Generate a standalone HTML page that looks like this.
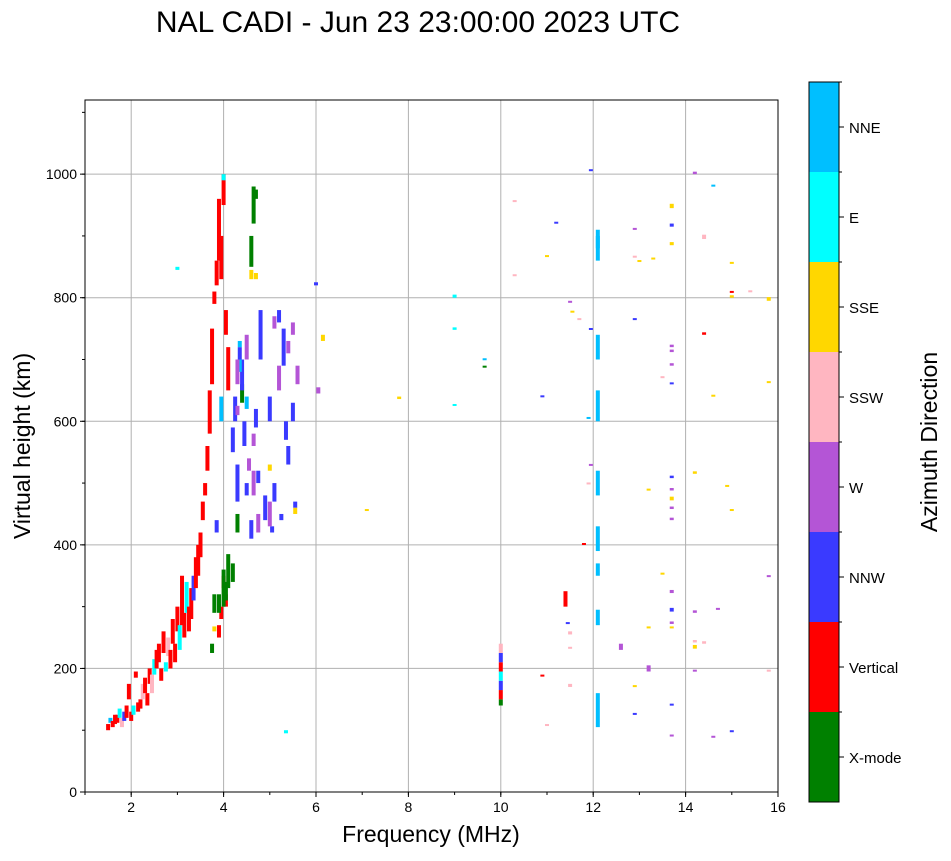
<!DOCTYPE html>
<html><head><meta charset="utf-8"><style>
body{margin:0;background:#fff;font-family:"Liberation Sans",sans-serif}
svg text{font-family:"Liberation Sans",sans-serif}
</style></head><body>
<svg id="c" width="951" height="856" xmlns="http://www.w3.org/2000/svg">
<text x="418" y="32" font-size="30" text-anchor="middle">NAL CADI - Jun 23 23:00:00 2023 UTC</text>
<g id="grid"></g><g id="marks"></g><g id="axes"></g><g id="cbar"></g>
<text x="431" y="842" font-size="23" text-anchor="middle">Frequency (MHz)</text>
<text x="0" y="0" font-size="23" text-anchor="middle" transform="translate(30,446) rotate(-90)">Virtual height (km)</text>
<text x="0" y="0" font-size="23" text-anchor="middle" transform="translate(937,442) rotate(-90)">Azimuth Direction</text>
</svg>
<script>
const categories=["X-mode","Vertical","NNW","W","SSW","SSE","E","NNE"];
const catColors=["#008000","#ff0000","#3a3aff","#b455d6","#ffb6c1","#ffd700","#00ffff","#00bfff"];
const xTicks=[0,2,4,6,8,10,12,14,16];
const yTicks=[0,200,400,600,800,1000];
// segments: frequency (MHz), low height, high height (km), category index
const freq=[1.5,1.55,1.6,1.65,1.7,1.75,1.8,1.85,1.9,1.95,2.0,2.05,2.1,2.15,2.2,2.25,2.3,2.35,2.4,2.45,2.5,2.55,2.6,2.65,2.7,2.75,2.8,2.85,2.9,2.95,3.0,3.05,3.1,3.15,3.2,3.25,3.3,3.35,3.4,3.45,3.5,3.55,3.6,3.65,3.7,3.75,3.8,3.85,3.9,3.95,4.0,4.05,4.1,3.9,3.95,4.0,4.05,3.85,3.95,
3.75,3.8,3.9,4.0,4.05,4.1,4.2,4.3,4.4,4.6,4.65,4.7,4.6,
4.2,4.25,4.3,4.35,4.4,4.45,4.5,4.6,4.7,4.8,4.9,5.0,5.1,5.2,5.3,5.35,5.4,5.5,5.55,4.35,4.5,4.75,5.05,5.25,
4.3,4.5,4.55,4.65,4.75,5.0,5.1,5.2,5.4,5.6,6.05,6.0,5.5,4.3,4.65,
4.7,5.0,5.55,6.15,7.1,7.8,3.8,
3.0,5.35,9.0,9.0,9.0,4.0,4.35,
10.0,10.0,10.0,10.0,10.0,10.0,10.0,9.65,9.65,
10.9,11.4,11.5,11.5,11.8,11.5,11.45,11.0,10.3,10.3,10.9,11.2,11.0,11.5,11.55,11.7,11.95,11.95,11.9,11.95,11.9,
12.1,12.1,12.1,12.1,12.1,12.1,12.1,12.1,12.1,
12.6,12.9,12.9,12.9,13.2,13.2,13.2,13.5,13.5,12.9,13.0,13.3,12.9,13.2,
13.7,13.7,13.7,13.7,13.7,13.7,13.7,13.7,13.7,13.7,13.7,13.7,13.7,13.7,13.7,13.7,13.7,13.7,
14.2,14.2,14.2,14.2,14.2,14.2,14.4,14.4,14.4,14.6,14.6,14.6,14.7,14.9,15.0,15.0,15.0,15.0,15.0,15.4,15.8,15.8,15.8,15.8];
const hLow=[100,112,105,110,112,120,105,115,120,150,115,125,185,130,135,150,160,140,175,160,190,200,210,180,225,195,220,200,240,210,260,230,270,250,290,260,280,310,330,350,380,440,480,520,580,660,790,820,860,830,950,740,650,250,280,330,300,420,600,
225,290,290,300,310,330,340,420,630,850,920,960,830,
550,600,470,700,650,560,480,410,590,700,440,600,470,760,690,570,530,600,460,680,620,500,420,440,
660,700,520,480,420,430,750,650,710,660,645,820,740,610,560,
830,520,450,730,455,636,260,
845,95,800,625,748,990,720,
140,150,165,180,195,210,225,688,700,
188,300,255,170,400,232,272,108,835,955,640,920,866,792,776,765,1006,748,605,528,498,
105,270,350,390,480,600,700,860,880,
230,125,170,910,195,265,488,352,670,865,858,862,765,200,
90,140,265,272,292,322,440,458,472,488,508,660,690,712,720,885,915,945,
195,232,242,290,515,1000,240,740,895,88,640,980,295,495,455,800,855,808,98,810,195,348,662,795];
const hHigh=[110,120,115,125,125,135,120,130,140,175,130,140,195,145,150,175,185,160,200,190,215,230,240,200,260,210,250,230,280,240,300,270,350,290,340,300,330,350,380,400,420,470,500,560,650,750,810,860,960,900,1000,780,720,270,300,350,320,440,640,
240,320,320,360,340,385,370,450,660,900,980,975,845,
590,640,530,720,700,600,500,440,620,780,480,640,500,780,750,600,560,630,470,700,640,520,430,450,
700,740,540,520,450,470,770,690,730,690,655,825,760,625,580,
840,530,460,740,458,640,268,
850,100,805,628,752,1000,730,
150,165,180,195,210,225,240,690,702,
190,325,260,175,403,235,275,110,838,958,642,923,869,795,779,767,1008,751,607,531,501,
160,295,370,430,520,650,740,910,900,
240,128,173,913,200,268,491,355,673,868,861,865,767,205,
93,143,268,276,298,327,444,462,478,492,512,663,694,716,724,890,920,952,
198,238,246,294,519,1004,244,744,902,91,643,983,298,497,458,804,858,811,100,812,198,351,665,801];
const cat=[1,7,1,1,1,6,4,2,1,1,1,6,1,1,1,4,1,1,1,4,6,1,1,1,1,6,4,1,1,1,1,6,1,1,6,1,1,2,1,1,1,1,1,1,1,1,1,1,1,1,1,1,1,1,1,1,1,2,7,
0,0,0,0,0,0,0,0,0,0,0,0,5,
2,2,2,2,2,2,2,2,2,2,2,2,2,2,2,2,2,2,2,7,7,2,2,2,
3,3,3,3,3,3,3,3,3,3,3,2,3,3,3,
5,5,5,5,5,5,5,
6,6,6,6,6,6,7,
0,1,2,6,1,2,4,0,7,
1,1,4,4,1,4,2,4,4,4,2,2,5,3,5,4,2,2,7,3,4,
7,7,7,7,7,7,7,7,7,
3,2,5,3,3,5,5,5,4,4,5,5,2,3,
3,2,5,3,2,3,3,3,5,3,2,2,3,3,3,5,2,5,
3,5,4,3,5,3,4,1,4,3,5,7,3,5,5,5,5,1,2,4,4,3,5,5];
const svg=document.getElementById('c');
const L=85,R=778,T=100,B=792,fMin=1,fMax=16,hMax=1120;
const xs=f=>L+(f-fMin)/(fMax-fMin)*(R-L);
const ys=h=>B-h/hMax*(B-T);
const NS="http://www.w3.org/2000/svg";
function mk(t,a,p){const e=document.createElementNS(NS,t);for(const k in a)e.setAttribute(k,a[k]);p.appendChild(e);return e;}
const grid=document.getElementById('grid'),axes=document.getElementById('axes'),marks=document.getElementById('marks'),cb=document.getElementById('cbar');
xTicks.forEach(v=>{if(v<fMin)return;const x=xs(v);
 const g=mk('line',{x1:x,x2:x,y1:T,y2:B,stroke:'#b0b0b0','stroke-width':1},grid);
 
 
 mk('line',{x1:x,x2:x,y1:B,y2:B+5,stroke:'#000'},axes);
 const t=mk('text',{x:x,y:B+20,'font-size':14,'text-anchor':'middle'},axes);t.textContent=v;
 
 
});
for(let v=1;v<=16;v++){mk('line',{x1:xs(v),x2:xs(v),y1:B,y2:B+3,stroke:'#000'},axes);}
yTicks.forEach(v=>{const y=ys(v);
 const g=mk('line',{x1:L,x2:R,y1:y,y2:y,stroke:'#b0b0b0','stroke-width':1},grid);
 
 
 mk('line',{x1:L-5,x2:L,y1:y,y2:y,stroke:'#000'},axes);
 const t=mk('text',{x:L-8,y:y+5,'font-size':14,'text-anchor':'end'},axes);t.textContent=v;
 
 
});
for(let v=100;v<=1100;v+=100){const y=ys(v);mk('line',{x1:L-3,x2:L,y1:y,y2:y,stroke:'#000'},axes);}
const fr=mk('rect',{x:L,y:T,width:R-L,height:B-T,fill:'none',stroke:'#000','stroke-width':1},axes);


const n=Math.min(freq.length,hLow.length,hHigh.length,cat.length);
for(let i=0;i<n;i++){
 const y1=ys(hHigh[i]),y2=ys(hLow[i]);
 const ci=cat[i];
 const r=mk('rect',{x:xs(freq[i])-2,y:y1,width:4,height:Math.max(2,y2-y1),fill:catColors[ci]},marks);
 
 
}
const cx=809,cw=30,cT=82,cB=802,ch=(cB-cT)/categories.length;
categories.forEach((c,i)=>{const y=cB-(i+1)*ch;
 const r=mk('rect',{x:cx,y:y,width:cw,height:ch,fill:catColors[i]},cb);
 
 
 mk('line',{x1:cx+cw,x2:cx+cw+5,y1:y+ch/2,y2:y+ch/2,stroke:'#000'},cb);
 mk('line',{x1:cx+cw,x2:cx+cw+3,y1:y,y2:y,stroke:'#000'},cb);
 const t=mk('text',{x:cx+cw+10,y:y+ch/2+6,'font-size':15},cb);t.textContent=c;
 
 
});
mk('rect',{x:cx,y:cT,width:cw,height:cB-cT,fill:'none',stroke:'#000'},cb);
</script>
</body></html>
